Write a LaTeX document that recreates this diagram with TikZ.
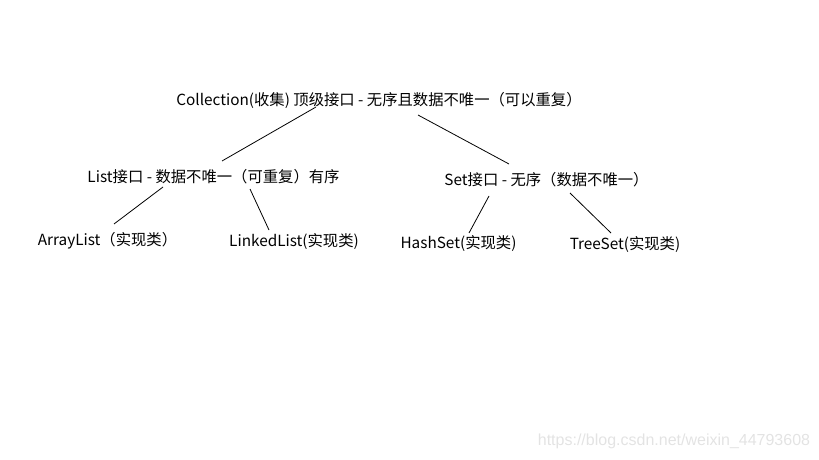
\documentclass[tikz,border=0pt]{standalone}
\usepackage{fontspec}
\setmainfont{Noto Sans CJK SC}
\newfontfamily\markfont{Liberation Sans}
\begin{document}
\begin{tikzpicture}[x=0.75pt,y=-0.75pt]
   \tikzset{font={\fontsize{11.5pt}{13}\selectfont},
     every node/.style={inner sep=0pt}}
    \useasboundingbox (0,0) rectangle (819,460);
    % tree labels
    \node (top) at (379,100) {Collection(收集) 顶级接口 - 无序且数据不唯一（可以重复）};
    \node (list) at (213.5,177) {List接口 - 数据不唯一（可重复）有序};
    \node (set) at (546.5,180) {Set接口 - 无序（数据不唯一）};
    \node (arr) at (107.5,241) {ArrayList（实现类）};
    \node (lnk) at (294,242) {LinkedList(实现类)};
    \node (hash) at (458.5,244) {HashSet(实现类)};
    \node (tree) at (625,245) {TreeSet(实现类)};
    % branches
    \draw[line width=.6pt] ([shift={(-63,7)}]top.center)--([shift={(8.5,-16)}]list.center);
    \draw[line width=.6pt] ([shift={(39,15)}]top.center)--([shift={(-37.5,-16)}]set.center);
    \draw[line width=.6pt] ([shift={(-50.5,10)}]list.center)--([shift={(6.5,-17)}]arr.center);
    \draw[line width=.6pt] ([shift={(36.5,12)}]list.center)--([shift={(-25,-12)}]lnk.center);
    \draw[line width=.6pt] ([shift={(-57.5,16)}]set.center)--([shift={(10.5,-11)}]hash.center);
    \draw[line width=.6pt] ([shift={(23.5,13)}]set.center)--([shift={(-14,-12)}]tree.center);
    % watermark
    \node[text=black!11,font={\markfont\fontsize{12pt}{14}\selectfont}] (mark) at (674,441) {https://blog.csdn.net/weixin\_44793608};
\end{tikzpicture}
\end{document}
